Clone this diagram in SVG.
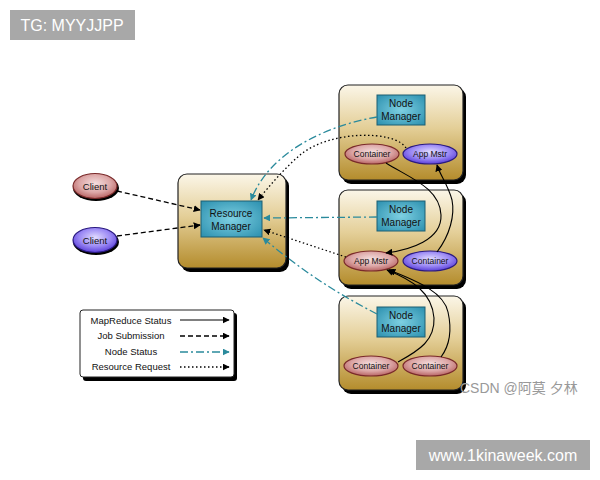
<svg xmlns="http://www.w3.org/2000/svg" width="600" height="480" viewBox="0 0 600 480">
<defs>
<linearGradient id="tan" x1="0" y1="0" x2="0" y2="1">
<stop offset="0" stop-color="#fbf6e8"/><stop offset="0.45" stop-color="#e4cf98"/><stop offset="1" stop-color="#b48c2c"/>
</linearGradient>
<radialGradient id="blueBox" cx="0.5" cy="0.5" r="0.7">
<stop offset="0" stop-color="#7ed0e2"/><stop offset="1" stop-color="#2b8fae"/>
</radialGradient>
<radialGradient id="pink" cx="0.5" cy="0.4" r="0.6">
<stop offset="0" stop-color="#f4dede"/><stop offset="0.6" stop-color="#dca6a6"/><stop offset="1" stop-color="#b86464"/>
</radialGradient>
<radialGradient id="purple" cx="0.5" cy="0.4" r="0.6">
<stop offset="0" stop-color="#e2dcff"/><stop offset="0.6" stop-color="#9a88f4"/><stop offset="1" stop-color="#5a3ed8"/>
</radialGradient>
<marker id="ah" viewBox="0 0 10 10" refX="9" refY="5" markerWidth="7" markerHeight="7" orient="auto" markerUnits="userSpaceOnUse">
<path d="M0,0 L10,5 L0,10 z" fill="#000"/>
</marker>
<marker id="aht" viewBox="0 0 10 10" refX="9" refY="5" markerWidth="7" markerHeight="7" orient="auto" markerUnits="userSpaceOnUse">
<path d="M0,0 L10,5 L0,10 z" fill="#2a8a9c"/>
</marker>
</defs>
<style>
.t{font-family:"Liberation Sans",Arial,sans-serif;fill:#111;text-anchor:middle}
.outer{fill:url(#tan);stroke:#222;stroke-width:1.2}
.shadow{fill:#000}
.nm{fill:url(#blueBox);stroke:#1d5f73;stroke-width:1}
.pk{fill:url(#pink);stroke:#7a2a2a;stroke-width:1.2}
.pu{fill:url(#purple);stroke:#2a1a80;stroke-width:1.2}
.solid{fill:none;stroke:#000;stroke-width:1.1;marker-end:url(#ah)}
.dash{fill:none;stroke:#000;stroke-width:1.3;stroke-dasharray:5,3;marker-end:url(#ah)}
.dot{fill:none;stroke:#000;stroke-width:1.3;stroke-dasharray:1.5,2.5;marker-end:url(#ah)}
.dd{fill:none;stroke:#2a8a9c;stroke-width:1.3;stroke-dasharray:8,3,2,3;marker-end:url(#aht)}
</style>
<rect width="600" height="480" fill="#fff"/>
<g id="wm1"><rect x="10" y="10" width="125" height="30" fill="#a8a8a8"/><text x="72" y="31" font-family="Liberation Sans,Arial,sans-serif" font-size="16" fill="#fff" text-anchor="middle">TG: MYYJJPP</text></g>

<g id="rm">
<rect class="shadow" x="181" y="177" width="108" height="95" rx="9"/>
<rect class="outer" x="178" y="174" width="108" height="94" rx="9"/>
<rect class="nm" x="201" y="201" width="61" height="36"/>
<text class="t" x="231" y="217" font-size="10">Resource</text>
<text class="t" x="231" y="230" font-size="10">Manager</text>
</g>
<g id="client1"><ellipse cx="96" cy="188" rx="23" ry="13" fill="#000"/><ellipse class="pk" cx="95" cy="186" rx="22" ry="12.5"/><text class="t" x="95" y="189.5" font-size="9.5">Client</text></g>
<g id="client2"><ellipse cx="96" cy="242" rx="23" ry="13" fill="#000"/><ellipse class="pu" cx="95" cy="240" rx="22" ry="12.5"/><text class="t" x="95" y="243.5" font-size="9.5">Client</text></g>

<g id="node1">
<rect class="shadow" x="342" y="88" width="124" height="96" rx="9"/>
<rect class="outer" x="339" y="85" width="124" height="95" rx="9"/>
<rect class="nm" x="377" y="95" width="48" height="30"/>
<text class="t" x="401" y="107" font-size="10">Node</text>
<text class="t" x="401" y="120" font-size="10">Manager</text>
<ellipse class="pk" cx="372" cy="154" rx="27" ry="10"/><text class="t" x="372" y="157" font-size="8.5">Container</text>
<ellipse class="pu" cx="430" cy="154" rx="27" ry="10"/><text class="t" x="430" y="157" font-size="8.5">App Mstr</text>
</g>
<g id="node2">
<rect class="shadow" x="342" y="193" width="124" height="96" rx="9"/>
<rect class="outer" x="339" y="190" width="124" height="95" rx="9"/>
<rect class="nm" x="377" y="201" width="48" height="30"/>
<text class="t" x="401" y="213" font-size="10">Node</text>
<text class="t" x="401" y="226" font-size="10">Manager</text>
<ellipse class="pk" cx="371" cy="261" rx="27" ry="10"/><text class="t" x="371" y="264" font-size="8.5">App Mstr</text>
<ellipse class="pu" cx="430" cy="261" rx="27" ry="10"/><text class="t" x="430" y="264" font-size="8.5">Container</text>
</g>
<g id="node3">
<rect class="shadow" x="342" y="299" width="124" height="95" rx="9"/>
<rect class="outer" x="339" y="296" width="124" height="94" rx="9"/>
<rect class="nm" x="377" y="307" width="48" height="30"/>
<text class="t" x="401" y="319" font-size="10">Node</text>
<text class="t" x="401" y="332" font-size="10">Manager</text>
<ellipse class="pk" cx="371" cy="366" rx="27" ry="10"/><text class="t" x="371" y="369" font-size="8.5">Container</text>
<ellipse class="pk" cx="430" cy="366" rx="27" ry="10"/><text class="t" x="430" y="369" font-size="8.5">Container</text>
</g>

<g id="legend">
<rect x="83" y="313" width="154" height="68" rx="3" fill="#000"/>
<rect x="80" y="310" width="154" height="67" rx="3" fill="#fff" stroke="#222" stroke-width="1"/>
<text class="t" x="131" y="324" font-size="9.5">MapReduce Status</text>
<text class="t" x="131" y="339" font-size="9.5">Job Submission</text>
<text class="t" x="131" y="355" font-size="9.5">Node Status</text>
<text class="t" x="131" y="370" font-size="9.5">Resource Request</text>
<line class="solid" x1="180" y1="320" x2="229" y2="320"/>
<line class="dash" x1="180" y1="336" x2="229" y2="336"/>
<line class="dd" x1="180" y1="352" x2="229" y2="352"/>
<line class="dot" x1="180" y1="367" x2="229" y2="367"/>
</g>

<g id="connectors">
<path class="dash" d="M117,191 L200,210"/>
<path class="dash" d="M117,236 L200,225"/>
<path class="dd" d="M377,117 C330,125 270,150 251,200"/>
<path class="dot" d="M406,148 C395,130 330,130 300,155 C285,168 270,185 258,200"/>
<path class="dd" d="M377,217 L264,218"/>
<path class="dot" d="M346,257 L264,230"/>
<path class="dd" d="M377,314 C330,290 295,265 263,238"/>
<path class="solid" d="M386,163 C410,178 440,188 441,215 C442,240 410,250 386,253"/>
<path class="solid" d="M437,252 C450,235 455,215 452,200 C448,185 440,175 437,165"/>
<path class="solid" d="M398,362 C420,350 435,340 434,318 C432,292 412,280 387,270"/>
<path class="solid" d="M441,357 C450,345 452,330 448,312 C444,293 420,282 389,270"/>
</g>

<g id="wm2"><text x="460" y="393" font-family="Liberation Sans,'Noto Sans CJK SC',sans-serif" font-size="14" fill="#999">CSDN @阿莫 夕林</text></g>
<g id="wm3"><rect x="416" y="440" width="174" height="30" fill="#a8a8a8"/><text x="503" y="461" font-family="Liberation Sans,Arial,sans-serif" font-size="16" fill="#fff" text-anchor="middle">www.1kinaweek.com</text></g>
</svg>
